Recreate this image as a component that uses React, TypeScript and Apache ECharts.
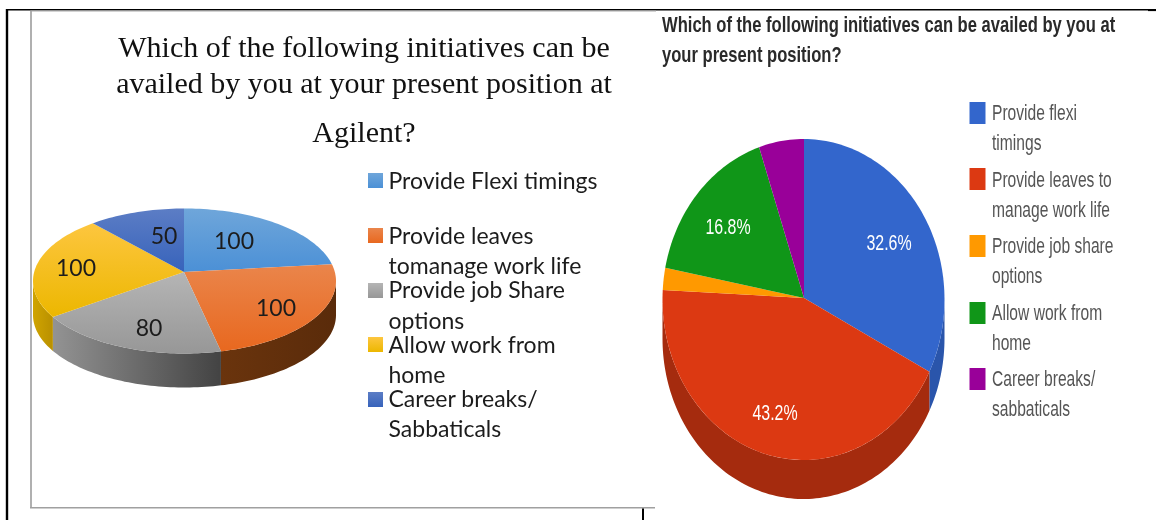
import React, { useEffect, useRef } from "react";
import * as echarts from "echarts";

const WIDTH = 1156;
const HEIGHT = 520;

// Agilent survey: respondent counts per initiative
const agilentLegendLines = [
  ["Provide Flexi timings"],
  ["Provide leaves", "tomanage work life"],
  ["Provide job Share", "options"],
  ["Allow work from", "home"],
  ["Career breaks/", "Sabbaticals"],
];
const agilentCounts = [100, 100, 80, 100, 50];
const agilentTitleLines = [
  "Which of the following initiatives can be",
  "availed by you at your present position at",
  "Agilent?",
];

// Comparison survey: percentage share per initiative
const surveyLegendLines = [
  ["Provide flexi", "timings"],
  ["Provide leaves to", "manage work life"],
  ["Provide job share", "options"],
  ["Allow work from", "home"],
  ["Career breaks/", "sabbaticals"],
];
const surveyShares = [32.6, 43.2, 2.2, 16.8, 5.2];
const surveyTitleLines = [
  "Which of the following initiatives can be availed by you at",
  "your present position?",
];

const agilentTop = [
  ["#6fa6da", "#4b90d6"],
  ["#ea854b", "#e8681f"],
  ["#b5b5b5", "#979797"],
  ["#fdc63f", "#ecb700"],
  ["#5c7dc5", "#3763bb"],
];
const agilentWall = [
  ["#3f7ab0", "#3f7ab0"],
  ["#6a340d", "#5a2b0a"],
  ["#939393", "#434343"],
  ["#d0a400", "#b99000"],
  ["#2c4f96", "#2c4f96"],
];
const surveyTop = ["#3366cc", "#dc3912", "#ff9900", "#109618", "#990099"];
const surveyWall = ["#2a55ab", "#a52b0e", "#bf7300", "#0c7012", "#730073"];

interface PieShape {
  cx: number;
  cy: number;
  rx: number;
  ry: number;
  apexX: number;
  apexY: number;
  depth: number;
}

const agilentShape: PieShape = { cx: 184.5, cy: 281, rx: 151.5, ry: 72.5, apexX: 184, apexY: 272, depth: 34 };
const surveyShape: PieShape = { cx: 803.5, cy: 299.5, rx: 141, ry: 160.5, apexX: 804, apexY: 298, depth: 39 };

const agilentLabelPoints = [
  [234, 240],
  [276, 307],
  [149, 327],
  [76, 267],
  [164, 235],
];
const surveyLabelPoints = [
  [889, 243],
  [775, 413],
  null,
  [728, 227],
  null,
];

const rim = (s: PieShape, deg: number, drop = 0): number[] => {
  const a = (deg * Math.PI) / 180;
  return [s.cx + s.rx * Math.sin(a), s.cy - s.ry * Math.cos(a) + drop];
};

const arcPoints = (s: PieShape, from: number, to: number, drop = 0): number[][] => {
  const out: number[][] = [];
  const steps = Math.max(2, Math.ceil((to - from) / 1.5));
  for (let i = 0; i <= steps; i++) out.push(rim(s, from + ((to - from) * i) / steps, drop));
  return out;
};

// Perspective: a slice edge is a ray from the apex, so the value angle is turned
// into the ellipse parameter of the point where that ray meets the rim.
const rimAngle = (s: PieShape, deg: number): number => {
  const a = (deg * Math.PI) / 180;
  const dx = Math.sin(a);
  const dy = -Math.cos(a);
  const ox = (s.apexX - s.cx) / s.rx;
  const oy = (s.apexY - s.cy) / s.ry;
  const A = dx * dx + dy * dy;
  const B = 2 * (ox * dx + oy * dy);
  const C = ox * ox + oy * oy - 1;
  const t = (-B + Math.sqrt(B * B - 4 * A * C)) / (2 * A);
  const param = (Math.atan2(ox + t * dx, -(oy + t * dy)) * 180) / Math.PI;
  return param < 0 ? param + 360 : param;
};

const tiltedPieSeries = (
  values: number[],
  shape: PieShape,
  topFill: (i: number) => any,
  wallFill: (i: number) => any,
  labelPoints: (number[] | null)[],
  labelFor: (v: number) => any
) => {
  const total = values.reduce((a, b) => a + b, 0);
  const starts: number[] = [];
  values.reduce((acc, v) => {
    starts.push((acc / total) * 360);
    return acc + v;
  }, 0);
  return {
    type: "custom",
    coordinateSystem: "none",
    silent: true,
    clip: false,
    data: values.map((v) => [v]),
    renderItem: (params: any, api: any) => {
      const i = params.dataIndex;
      const v = api.value(0);
      const valueFrom = starts[i];
      const valueTo = valueFrom + (v / total) * 360;
      const from = valueFrom === 0 ? rimAngle(shape, 0) % 360 : rimAngle(shape, valueFrom);
      let to = rimAngle(shape, valueTo % 360);
      if (to <= from) to += 360;
      const children: any[] = [];
      const wallFrom = Math.max(from, 90);
      const wallTo = Math.min(to, 270);
      if (wallTo > wallFrom) {
        const upper = arcPoints(shape, wallFrom, wallTo);
        const lower = arcPoints(shape, wallFrom, wallTo, shape.depth).reverse();
        children.push({
          type: "polygon",
          shape: { points: [...upper, ...lower] },
          style: { fill: wallFill(i) },
        });
      }
      children.push({
        type: "polygon",
        shape: { points: [[shape.apexX, shape.apexY], ...arcPoints(shape, from, to)] },
        style: { fill: topFill(i) },
      });
      const point = labelPoints[i];
      if (point) {
        children.push({
          type: "text",
          x: point[0],
          y: point[1],
          z2: 10,
          ...labelFor(v),
        });
      }
      return { type: "group", children };
    },
  };
};

const vertical = (pair: string[]) =>
  new echarts.graphic.LinearGradient(0, 0, 0, 1, [
    { offset: 0, color: pair[0] },
    { offset: 1, color: pair[1] },
  ]);
const horizontal = (pair: string[]) =>
  new echarts.graphic.LinearGradient(0, 0, 1, 0, [
    { offset: 0, color: pair[0] },
    { offset: 1, color: pair[1] },
  ]);

const textEl = (
  text: string,
  x: number,
  y: number,
  fontFamily: string,
  fontSize: number,
  fill: string,
  align: string,
  scaleX = 1,
  fontWeight: string | number = "normal"
) => ({
  type: "text",
  x,
  y,
  scaleX,
  style: { text, fontFamily, fontSize, fontWeight, fill, align, verticalAlign: "middle" },
});

const rule = (x1: number, y1: number, x2: number, y2: number, stroke: string, lineWidth: number) => ({
  type: "line",
  shape: { x1, y1, x2, y2 },
  style: { stroke, lineWidth },
});

const agilentTitleY = [46, 82, 131];
const agilentLegendY = [
  [180],
  [235, 265],
  [289, 320],
  [344, 374],
  [398, 428],
];
const agilentSwatchY = [173, 228, 283, 337, 392];
const surveyTitleY = [24, 54];
const surveyLegendY = [
  [113, 143],
  [180, 210],
  [246, 276],
  [313, 343],
  [379, 409],
];
const surveySwatchY = [102, 168, 235, 302, 368];

const agilentOption = () => ({
  animation: false,
  graphic: [
    rule(7, 9, 7, HEIGHT, "#000", 2.4),
    rule(6, 9.7, WIDTH, 9.7, "#000", 1.4),
    rule(30.5, 11, 656, 11, "#a8a8a8", 1.2),
    rule(31, 11, 31, 508, "#a8a8a8", 1.8),
    rule(30, 507.7, 655, 507.7, "#a0a0a0", 1.4),
    rule(643, 508.5, 643, HEIGHT, "#000", 2),
    rule(1148, 10.4, WIDTH, 10.4, "#000", 1.4),
    ...agilentTitleLines.map((line, i) =>
      textEl(line, 364, agilentTitleY[i], "Liberation Serif", 30, "#111", "center")
    ),
    ...agilentLegendLines.flatMap((lines, i) => [
      {
        type: "rect",
        shape: { x: 368, y: agilentSwatchY[i], width: 15, height: 15 },
        style: { fill: vertical(agilentTop[i]) },
      },
      ...lines.map((line, j) => textEl(line, 388.5, agilentLegendY[i][j], "Lato", 23, "#1c1c1c", "left")),
    ]),
  ],
  series: [
    tiltedPieSeries(
      agilentCounts,
      agilentShape,
      (i) => vertical(agilentTop[i]),
      (i) => horizontal(agilentWall[i]),
      agilentLabelPoints,
      (v) => ({
        style: {
          text: String(v),
          fontFamily: "Lato",
          fontSize: 23,
          fill: "#1c1c1c",
          align: "center",
          verticalAlign: "middle",
        },
      })
    ),
  ],
});

const surveyOption = () => ({
  animation: false,
  graphic: [
    ...surveyTitleLines.map((line, i) =>
      textEl(line, 662, surveyTitleY[i], "Liberation Sans", 22, "#2a2a2a", "left", 0.754, "bold")
    ),
    ...surveyLegendLines.flatMap((lines, i) => [
      {
        type: "rect",
        shape: { x: 969.5, y: surveySwatchY[i], width: 16, height: 22 },
        style: { fill: surveyTop[i] },
      },
      ...lines.map((line, j) => textEl(line, 992, surveyLegendY[i][j], "Liberation Sans", 22, "#555", "left", 0.71)),
    ]),
  ],
  series: [
    tiltedPieSeries(
      surveyShares,
      surveyShape,
      (i) => surveyTop[i],
      (i) => surveyWall[i],
      surveyLabelPoints,
      (v) => ({
        scaleX: 0.725,
        style: {
          text: `${v.toFixed(1)}%`,
          fontFamily: "Liberation Sans",
          fontSize: 22,
          fill: "#fff",
          align: "center",
          verticalAlign: "middle",
        },
      })
    ),
  ],
});

const layer: React.CSSProperties = { position: "fixed", left: 0, top: 0, width: WIDTH, height: HEIGHT };

export default function App() {
  const baseRef = useRef<HTMLDivElement>(null);
  const softRef = useRef<HTMLDivElement>(null);

  useEffect(() => {
    document.body.style.margin = "0";
    document.body.style.background = "#fff";
    const base = echarts.init(baseRef.current!, undefined, { renderer: "svg" });
    const soft = echarts.init(softRef.current!, undefined, { renderer: "svg" });
    base.setOption(agilentOption() as any);
    soft.setOption(surveyOption() as any);
    return () => {
      base.dispose();
      soft.dispose();
    };
  }, []);

  return (
    <>
      <div ref={baseRef} style={layer} />
      <div ref={softRef} style={{ ...layer, filter: "blur(0.6px)" }} />
    </>
  );
}
